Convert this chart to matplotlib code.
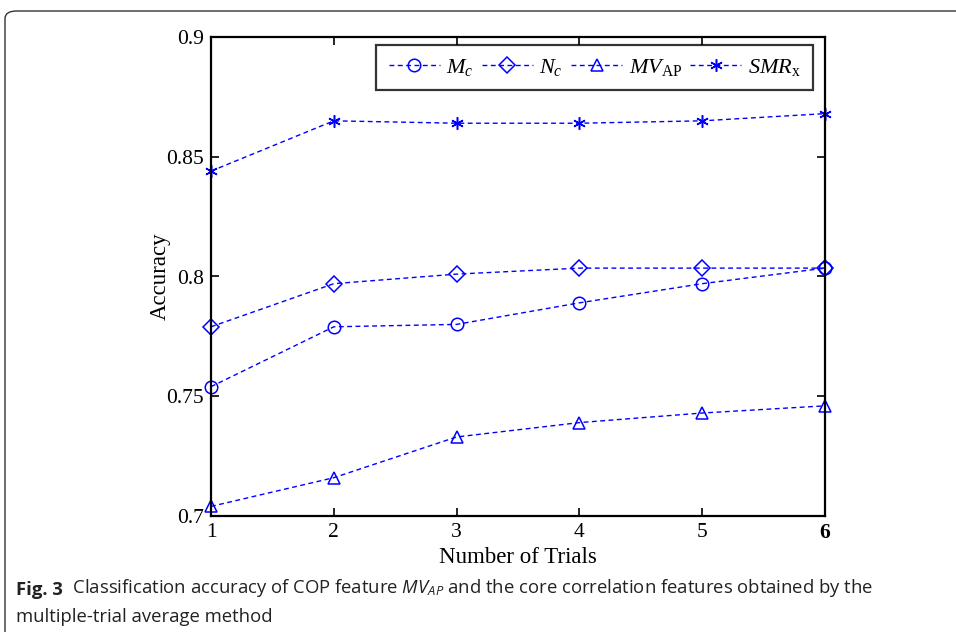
import numpy as np
import matplotlib
matplotlib.use("Agg")
import matplotlib.pyplot as plt
from matplotlib.patches import FancyBboxPatch

# values
trials = [1, 2, 3, 4, 5, 6]
mc = [0.754, 0.779, 0.780, 0.789, 0.797, 0.8035]
nc = [0.779, 0.797, 0.801, 0.8035, 0.8035, 0.8035]
mv_ap = [0.704, 0.716, 0.733, 0.739, 0.743, 0.746]
smr_x = [0.844, 0.865, 0.864, 0.864, 0.865, 0.868]
yticks = [0.7, 0.75, 0.8, 0.85, 0.9]
ytick_labels = ["0.7", "0.75", "0.8", "0.85", "0.9"]

plt.rcParams["font.family"] = ["Liberation Serif", "DejaVu Serif"]
plt.rcParams["mathtext.fontset"] = "custom"
plt.rcParams["mathtext.rm"] = "Liberation Serif"
plt.rcParams["mathtext.it"] = "Liberation Serif:italic"
plt.rcParams["mathtext.sf"] = "Open Sans:italic"

fig = plt.figure(figsize=(9.56, 6.32), dpi=100)
ax = fig.add_axes([211 / 956, 1 - 516 / 632, 614 / 956, 479 / 632])

blue = "#0000ff"
ls = (0, (3.5, 2.5))
common = dict(color=blue, linestyle=ls, linewidth=1.0, markerfacecolor="none",
              markeredgecolor=blue, markeredgewidth=1.1, clip_on=False)
ax.plot(trials, mc, marker="o", markersize=9, label=r"$M_c$", **common)
ax.plot(trials, nc, marker="D", markersize=8, label=r"$N_c$", **common)
ax.plot(trials, mv_ap, marker="^", markersize=9, label=r"$MV_{\mathrm{AP}}$", **common)
ax.plot(trials, smr_x, marker=(6, 2, 0), markersize=9, label=r"$SMR_{\mathrm{x}}$", **common)

ax.set_xlim(1, 6)
ax.set_ylim(0.7, 0.9)
ax.set_xticks(trials)
ax.set_yticks(yticks)
ax.set_yticklabels(ytick_labels)
ax.tick_params(direction="in", top=True, right=True, length=6, width=1.2,
               labelsize=15.5, pad=5)
for lab in ax.get_xticklabels():
    if lab.get_text() == "6":
        lab.set_fontweight("bold")
for s in ax.spines.values():
    s.set_linewidth(1.6)
ax.set_xlabel("Number of Trials", fontsize=16.5, labelpad=3)
ax.set_ylabel("Accuracy", fontsize=16.5, labelpad=-3)

leg = ax.legend(loc="upper right", bbox_to_anchor=(602 / 614, 471 / 479), borderaxespad=0,
                ncol=4, fontsize=16, handlelength=2.3, handletextpad=0.3,
                columnspacing=0.35, fancybox=False, frameon=True, borderpad=0.55)
leg.get_frame().set_edgecolor("black")
leg.get_frame().set_linewidth(1.6)

# rounded caption frame
frame = FancyBboxPatch((5 / 956, -0.1), 1.2, 1 - 11 / 632 + 0.1,
                       boxstyle="round,pad=0,rounding_size=0.012",
                       transform=fig.transFigure, facecolor="none",
                       edgecolor="#333333", linewidth=1.0, clip_on=False)
fig.patches.append(frame)

cap_size = 13.3
t1 = fig.text(16 / 956, 1 - 590 / 632, "Fig. 3", fontsize=cap_size, fontweight="bold",
              family="Open Sans", va="center", color="#222222")
ax.annotate("  Classification accuracy of COP feature $\\mathsf{MV}_{\\mathsf{AP}}$"
            " and the core correlation features obtained by the",
            xy=(1, 0), xycoords=t1, fontsize=cap_size, family="Open Sans",
            va="bottom", ha="left", color="#222222", annotation_clip=False)
fig.text(16 / 956, 1 - 617 / 632, "multiple-trial average method", fontsize=cap_size,
         family="Open Sans", va="center", color="#222222")

fig.savefig("out.png", dpi=100)
